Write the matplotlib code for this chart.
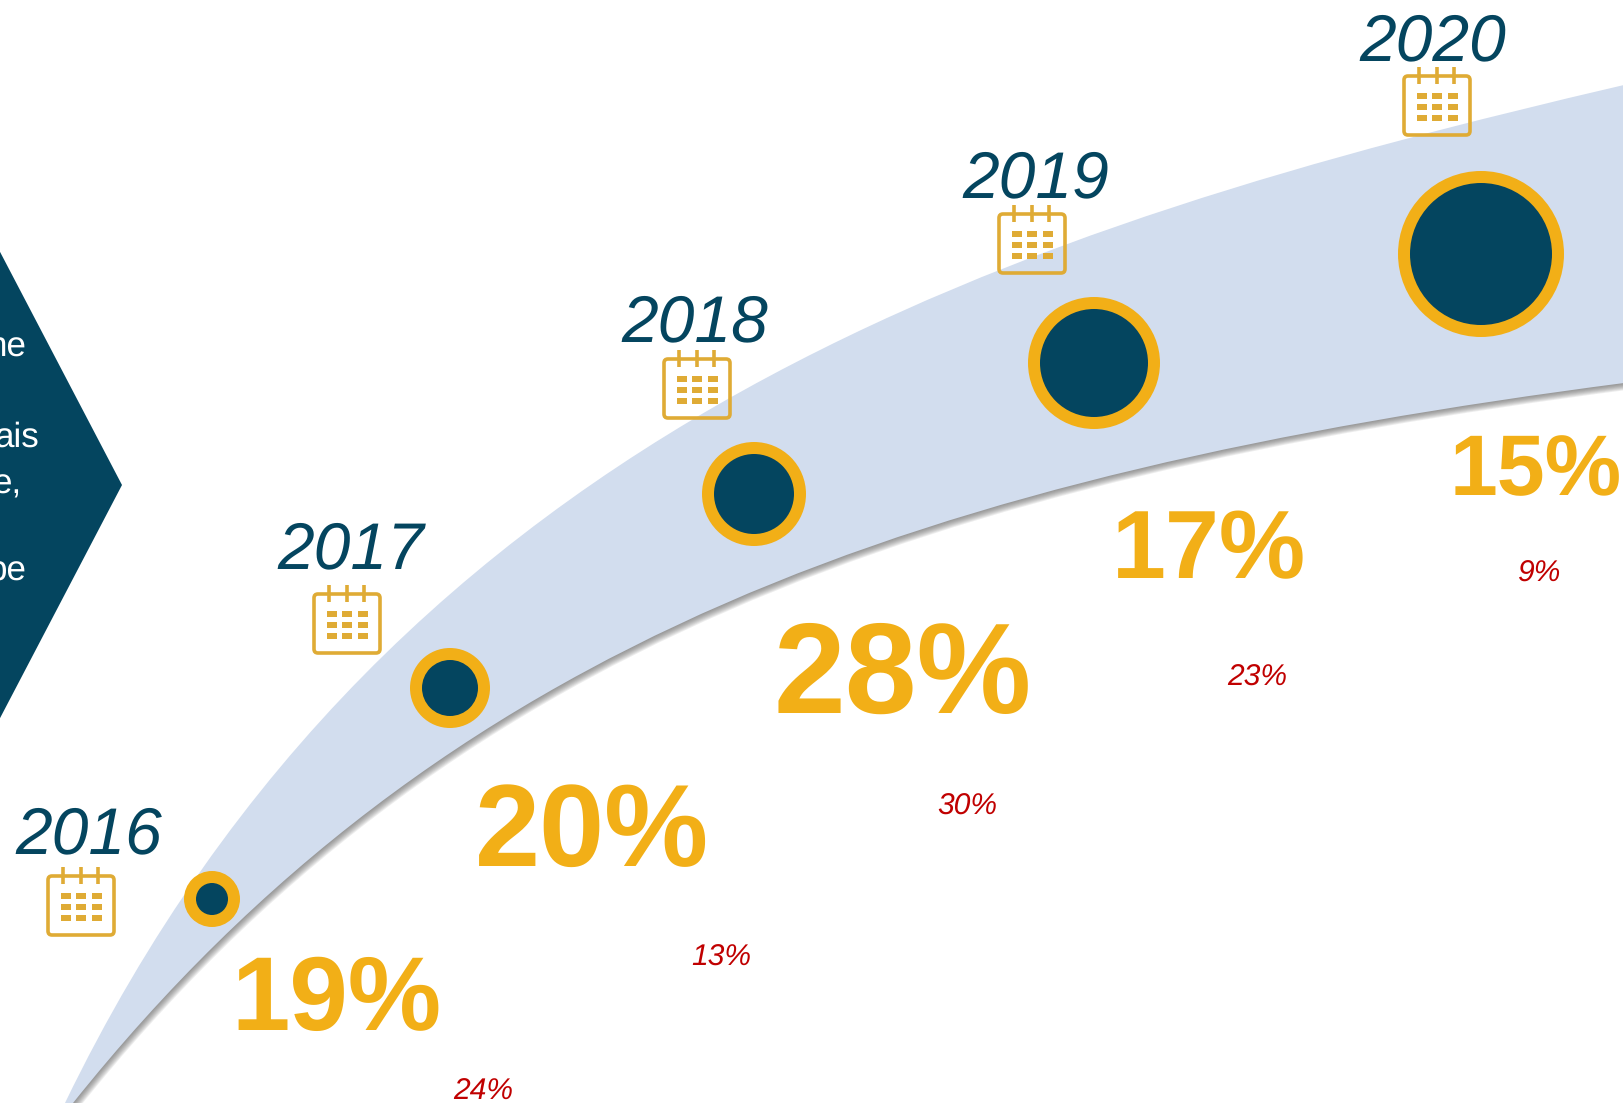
#!/usr/bin/python
# Growth arc with yearly bubbles, canvas is laid out in picture pixels

import matplotlib
matplotlib.use('Agg')
import matplotlib.pyplot as plt
import numpy as np
from matplotlib.path import Path
from matplotlib.patches import PathPatch, Circle, Polygon, FancyBboxPatch, Rectangle

plt.rcParams['font.family'] = ['Liberation Sans', 'DejaVu Sans']
plt.rcParams['text.hinting'] = 'no_hinting'
plt.rcParams['text.hinting_factor'] = 1

W, H = 1624, 1103
PX = 72.0/100.0   # font px to pt at dpi 100

navy = '#04455F'
gold = '#F2AF17'
icon = '#DFAB35'
band = '#D2DDEE'
red = '#C00000'

years = ['2016', '2017', '2018', '2019', '2020']
growth = ['19%', '20%', '28%', '17%', '15%']
sub = ['24%', '13%', '30%', '23%', '9%']

# bubbles
bub_x = [212, 450, 754, 1094, 1481]
bub_y = [899, 688, 494, 363, 254]
bub_r = [28, 40, 52, 66, 83]
ring = 12

# year labels (left, baseline)
year_x = [15, 277, 621, 962, 1359]
year_y = [853, 568, 341, 197, 60]

# calendar icons (left, top)
cal_x = [46, 312, 662, 997, 1402]
cal_y = [874, 592, 357, 212, 74]

# big percents
big_x = [231, 475, 774, 1112, 1450]
big_y = [1030, 866, 713, 578, 495]
big_px = [105, 117, 129, 97, 86]

# small red percents
sub_x = [453, 691, 937, 1227, 1518]
sub_y = [1100, 966, 815, 686, 582]
sub_px = 30

# arc edges, bezier control points
up_x = [65, 395, 1024, 1624]
up_y = [1103, 420, 225, 85]
lo_x = [73, 443, 924, 1624]
lo_y = [1103, 640, 474, 383]

# left arrow
arrow_x = [-2, 122, -2]
arrow_y = [248, 485, 722]
arrow_txt = ['ne', 'ais', 'e,', 'be']
arrow_txt_x = [27, 39, 22, 27]
arrow_txt_y = [357, 447, 494, 580]


def band_path(dx=0, dy=0):
    up = np.column_stack([up_x, up_y]).astype(float)
    lo = np.column_stack([lo_x, lo_y]).astype(float)[::-1]
    verts = list(up) + list(lo) + [up[0]]
    codes = [Path.MOVETO] + [Path.CURVE4]*3 + [Path.LINETO] + [Path.CURVE4]*3 + [Path.CLOSEPOLY]
    return Path(np.array(verts)+[dx, dy], codes)


def calendar(ax, x, y):
    ax.add_patch(FancyBboxPatch((x+2, y+2), 66, 59, boxstyle='round,pad=0,rounding_size=4',
                                fc='none', ec=icon, lw=2.6, zorder=3))
    for tx in [17, 35, 52]:
        ax.plot([x+tx, x+tx], [y-7, y+10], color=icon, lw=2.6, solid_capstyle='butt', zorder=3)
    for cx in [20, 35, 51]:
        for cy in [22, 33, 44]:
            ax.add_patch(Rectangle((x+cx-4.7, y+cy-3.4), 9.4, 6.8, fc=icon, ec='none', zorder=3))


fig = plt.figure(figsize=(W/100.0, H/100.0), dpi=100)
ax = fig.add_axes([0, 0, 1, 1])
ax.set_xlim(0, W)
ax.set_ylim(H, 0)
ax.axis('off')

# soft shadow under the arc
for k in np.arange(8, 0, -1):
    ax.add_patch(PathPatch(band_path(k*0.55, k*0.85), fc='#555555', ec='none', alpha=0.10, zorder=1))
ax.add_patch(PathPatch(band_path(), fc=band, ec='none', zorder=2))

ax.add_patch(Polygon(np.column_stack([arrow_x, arrow_y]), closed=True, fc=navy, ec='none', zorder=2))
for t, x, y in zip(arrow_txt, arrow_txt_x, arrow_txt_y):
    ax.text(x, y, t, color='white', fontsize=35*PX, ha='right', va='baseline', zorder=4)

for i in range(len(years)):
    ax.add_patch(Circle((bub_x[i], bub_y[i]), bub_r[i], fc=gold, ec='none', zorder=4))
    ax.add_patch(Circle((bub_x[i], bub_y[i]), bub_r[i]-ring, fc=navy, ec='none', zorder=5))
    ax.text(year_x[i], year_y[i], years[i], color=navy, style='italic', fontsize=66*PX,
            ha='left', va='baseline', zorder=4)
    calendar(ax, cal_x[i], cal_y[i])
    ax.text(big_x[i], big_y[i], growth[i], color=gold, weight='bold', fontsize=big_px[i]*PX,
            ha='left', va='baseline', zorder=4)
    ax.text(sub_x[i], sub_y[i], sub[i], color=red, style='italic', fontsize=sub_px*PX,
            ha='left', va='baseline', zorder=4)

fig.savefig('out.png', dpi=100, facecolor='white')
